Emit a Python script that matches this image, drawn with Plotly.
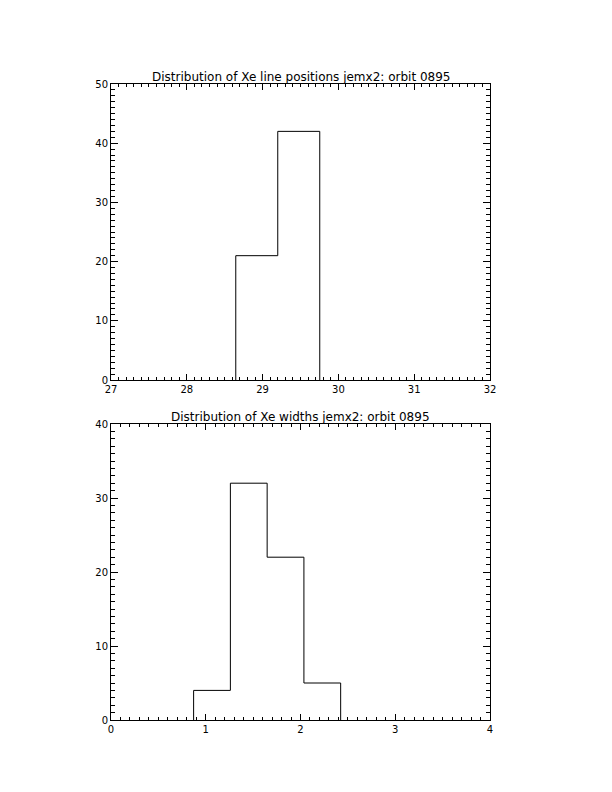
import plotly.graph_objects as go

# ---- data ----
pos_bin_edges = [28.646, 29.200, 29.754]
pos_counts = [21, 42]

width_bin_edges = [0.872, 1.260, 1.648, 2.036, 2.424]
width_counts = [4, 32, 22, 5]

title_top = "Distribution of Xe line positions jemx2: orbit 0895"
title_bottom = "Distribution of Xe widths jemx2: orbit 0895"

W, H = 612, 792
FONT = "DejaVu Sans"
OFF = 8  # page body margin in the browser


def step_xy(edges, counts):
    xs = [edges[0]] + list(edges)
    ys = [0] + list(counts) + [0]
    return xs, ys


fig = go.Figure()

x1, y1 = step_xy(pos_bin_edges, pos_counts)
fig.add_trace(go.Scatter(x=x1, y=y1, mode="lines", line=dict(shape="hv", color="black", width=1),
                         xaxis="x", yaxis="y", showlegend=False, hoverinfo="skip"))
x2, y2 = step_xy(width_bin_edges, width_counts)
fig.add_trace(go.Scatter(x=x2, y=y2, mode="lines", line=dict(shape="hv", color="black", width=1),
                         xaxis="x2", yaxis="y2", showlegend=False, hoverinfo="skip"))

left, right = 111 - OFF, 490 - OFF
top1, bot1 = 84 - OFF, 380 - OFF
top2, bot2 = 424 - OFF, 720 - OFF
xdom = [left / W, right / W]


def xa(rng, dtick, anchor, domain):
    return dict(range=rng, dtick=dtick, tick0=rng[0], anchor=anchor, domain=domain,
                automargin=False,
                showline=True, linecolor="black", linewidth=1, mirror="allticks",
                ticks="inside", ticklen=6, tickcolor="black", tickwidth=1,
                minor=dict(dtick=dtick / 10, ticks="inside", ticklen=3, tickcolor="black", tickwidth=1,
                           showgrid=False),
                showgrid=False, zeroline=False, fixedrange=True,
                tickfont=dict(family=FONT, size=10, color="black"))


def ya(rng, anchor, domain):
    return dict(range=rng, dtick=10, tick0=0, anchor=anchor, domain=domain,
                automargin=False,
                showline=True, linecolor="black", linewidth=1, mirror="allticks",
                ticks="inside", ticklen=7, tickcolor="black", tickwidth=1,
                minor=dict(dtick=1, ticks="inside", ticklen=4, tickcolor="black", tickwidth=1,
                           showgrid=False),
                showgrid=False, zeroline=False, fixedrange=True,
                tickfont=dict(family=FONT, size=10, color="black"))


fig.update_layout(
    template="none",
    width=W, height=H,
    margin=dict(l=0, r=0, t=0, b=0, pad=0),
    paper_bgcolor="white", plot_bgcolor="white",
    xaxis=xa([27, 32], 1, "y", xdom),
    yaxis=ya([0, 50], "x", [1 - bot1 / H, 1 - top1 / H]),
    xaxis2=xa([0, 4], 1, "y2", xdom),
    yaxis2=ya([0, 40], "x2", [1 - bot2 / H, 1 - top2 / H]),
    annotations=[
        dict(text=title_top, xref="paper", yref="paper", x=(xdom[0] + xdom[1]) / 2,
             y=1 - top1 / H, yshift=-2, xanchor="center", yanchor="bottom", showarrow=False,
             font=dict(family=FONT, size=12, color="black")),
        dict(text=title_bottom, xref="paper", yref="paper", x=(xdom[0] + xdom[1]) / 2,
             y=1 - top2 / H, yshift=-2, xanchor="center", yanchor="bottom", showarrow=False,
             font=dict(family=FONT, size=12, color="black")),
    ],
)

fig.write_html("out.html")
